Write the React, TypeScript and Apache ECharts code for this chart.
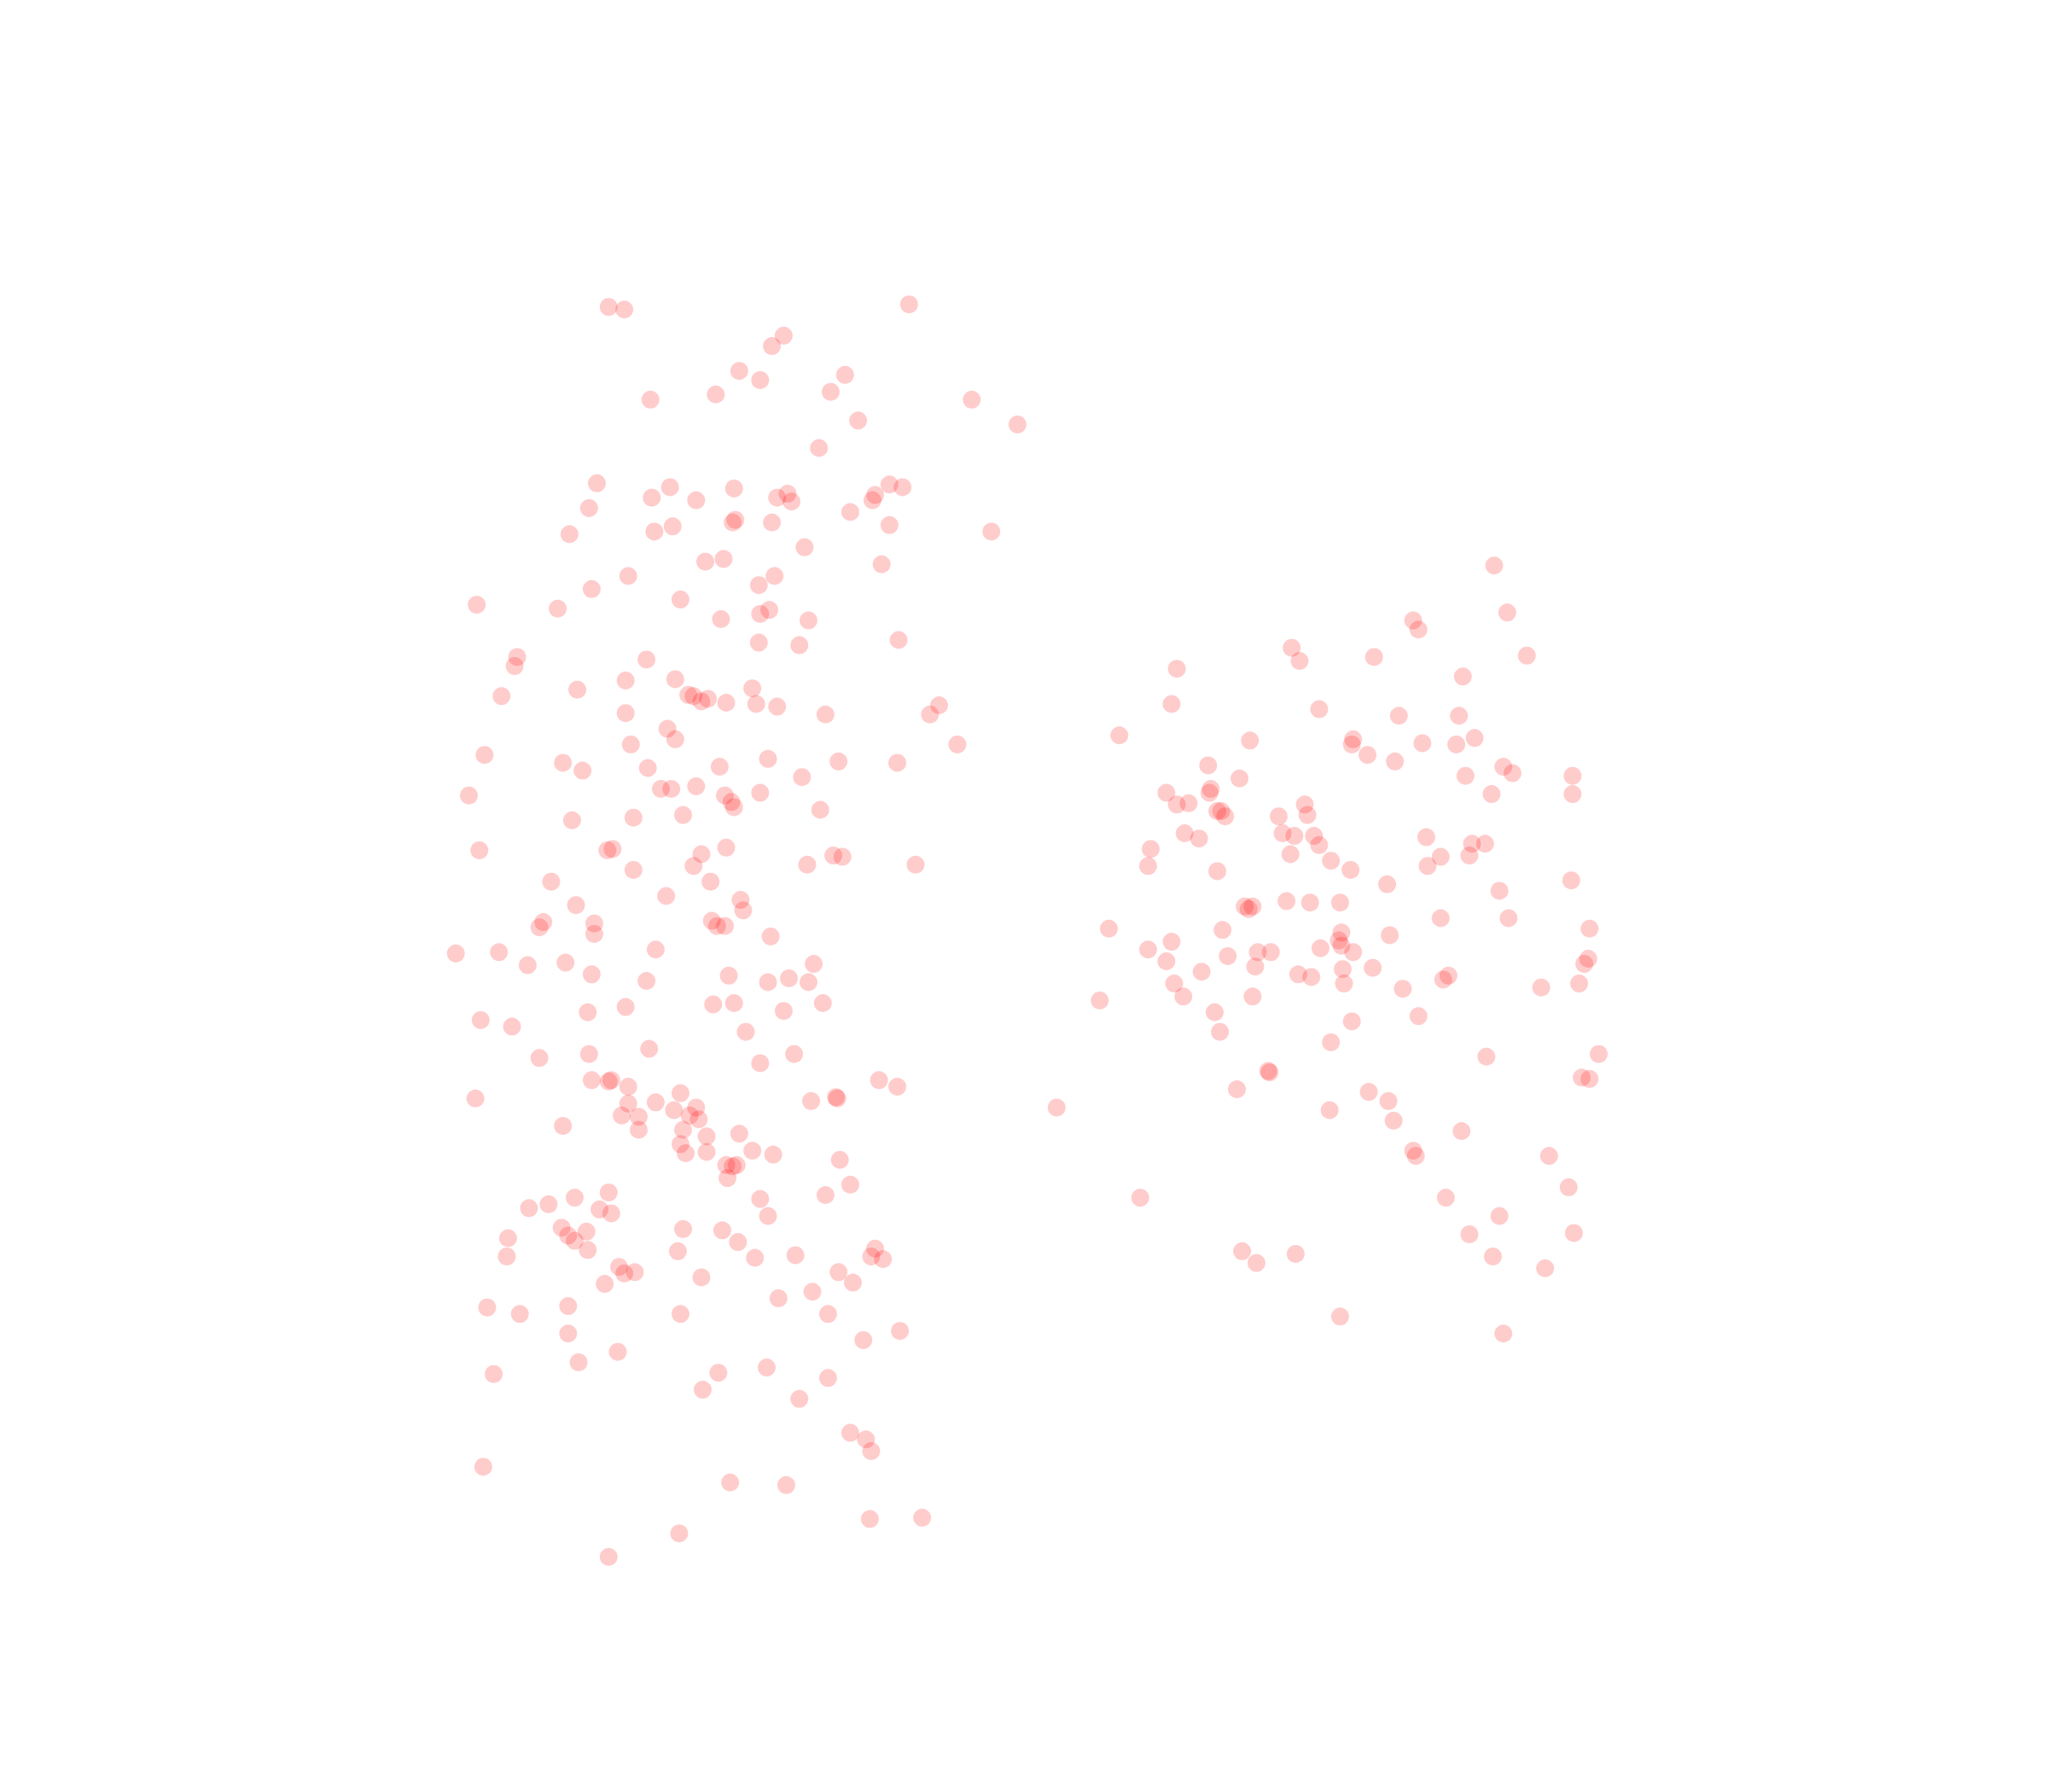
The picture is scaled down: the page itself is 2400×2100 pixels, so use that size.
import React, { useEffect, useRef } from "react";
import * as echarts from "echarts";

// Coordinates measured on a 1568 x 1372 reading of the picture (y grows downward)
const xRange = [0, 1568];
const yRange = [0, 1372];

const leftCluster: number[][] = [
  [466,235],[478,237],[696,233],[600,257],[591,265],[566,284],[582,291],[647,287],
  [498,306],[548,302],[636,300],[744,306],[657,322],[779,325],[627,343],
  [457,370],[513,373],[562,374],[681,371],[691,373],[499,381],[533,383],[595,381],[603,378],[606,384],[668,383],[670,379],
  [451,389],[651,392],[436,409],[501,407],[515,403],[561,400],[563,398],[591,400],[681,402],[759,407],[616,419],
  [540,430],[554,428],[675,432],[481,441],[593,441],[581,448],[453,451],
  [365,463],[427,466],[521,459],[582,470],[589,467],[552,474],[619,475],[581,492],[612,494],[688,490],
  [396,503],[394,510],[495,505],[479,521],[517,520],[442,528],[576,527],
  [384,533],[527,532],[531,533],[537,537],[542,535],[556,538],[579,539],[595,541],[719,540],
  [479,546],[632,547],[712,547],[511,558],[517,566],[483,570],[733,570],
  [371,578],[431,584],[446,590],[496,588],[551,587],[588,581],[642,583],[687,584],[614,595],
  [359,609],[506,604],[514,604],[533,602],[555,609],[560,614],[562,618],[582,607],[628,620],
  [438,628],[485,626],[523,624],
  [367,651],[465,651],[469,650],[537,654],[556,649],[638,655],[645,656],[618,662],[701,662],
  [485,666],[531,663],[422,675],[544,675],[510,686],[567,689],[569,697],[441,693],
  [413,710],[416,706],[455,707],[455,715],[545,705],[549,709],[555,709],[590,717],
  [349,730],[382,729],[502,727],[404,739],[433,737],[453,746],[495,751],[558,747],[588,752],[604,749],[619,752],[623,738],
  [546,769],[562,768],[600,774],[630,768],[450,775],[479,771],[368,781],[392,786],[571,790],
  [413,810],[451,807],[497,803],[582,814],[608,807],
  [453,827],[466,828],[468,827],[481,832],[521,837],[640,840],[641,841],[621,843],[673,827],[687,832],
  [364,841],[502,844],[481,845],[516,850],[476,854],[489,855],[528,854],[533,848],[535,857],
  [431,862],[489,865],[523,865],[566,868],[541,870],
  [521,876],[525,883],[541,882],[576,881],[592,884],[643,888],
  [556,892],[561,893],[564,892],[557,902],[651,907],
  [466,913],[440,917],[420,922],[405,925],[459,926],[468,929],[582,918],[588,931],[632,915],
  [430,940],[449,943],[435,946],[440,950],[389,948],[523,941],[553,942],[565,951],
  [388,962],[450,957],[519,958],[578,963],[609,961],[670,956],[667,962],[676,964],
  [474,970],[478,975],[486,974],[463,983],[537,978],[642,974],[653,982],
  [373,1001],[398,1006],[435,1000],[596,994],[622,989],
  [521,1006],[634,1006],[435,1021],[661,1026],[689,1019],
  [443,1043],[473,1035],[587,1047],[378,1052],[550,1051],[634,1055],[538,1064],[612,1071],
  [651,1097],[663,1102],[667,1111],[370,1123],[559,1135],[602,1137],
  [666,1163],[706,1162],[520,1174],[466,1192],
  [809,848]
];

const rightCluster: number[][] = [
  [1144,433],[1154,469],[1082,475],[1086,482],[989,496],[995,506],[1052,503],[1169,502],
  [901,512],[1120,518],[897,539],[1010,543],[1071,548],[1117,548],
  [857,563],[957,567],[1036,566],[1035,570],[1089,569],[1115,570],[1129,565],
  [1047,578],[1068,583],[925,586],[1151,587],[1158,592],[949,596],[1122,594],[1204,594],
  [893,607],[927,604],[926,607],[901,616],[910,615],[1142,608],[1204,608],
  [932,621],[935,621],[938,625],[999,616],[1001,624],[979,625],
  [881,650],[907,638],[918,642],[982,638],[991,640],[1006,640],[1010,647],[988,654],[1092,641],[1127,646],[1137,646],[1103,656],[1125,655],
  [879,663],[932,667],[1019,659],[1034,666],[1093,663],
  [1062,677],[1203,674],[1148,682],
  [985,690],[1003,691],[1026,691],[953,694],[956,696],[959,694],
  [849,711],[936,712],[1103,703],[1155,703],[1217,711],[1027,714],[1064,716],
  [879,727],[897,721],[1011,726],[1025,720],[1027,724],[963,729],[973,729],[1036,729],
  [893,736],[940,732],[961,740],[1216,734],[1213,738],
  [920,744],[994,746],[1004,748],[1051,741],[1028,742],[1029,753],
  [899,753],[1074,757],[1105,750],[1109,747],[1180,756],[1209,753],
  [842,766],[906,763],[959,763],[930,775],[1086,778],[1035,782],
  [934,790],[1019,798],[1138,809],[1224,807],
  [971,820],[972,821],[1211,825],[1217,826],
  [947,834],[1048,836],[1063,843],[1018,850],[1067,858],[1119,866],
  [1082,881],[1084,885],[1186,885],[873,917],[1107,917],[1201,909],
  [1125,945],[1148,931],[1205,944],[951,958],[962,967],[992,960],[1143,962],
  [1183,971],[1026,1008],[1151,1021]
];

export default function App() {
  const ref = useRef<HTMLDivElement>(null);
  useEffect(() => {
    if (!ref.current) return;
    const chart = echarts.init(ref.current, null, { renderer: "svg" });
    const itemStyle = { color: "rgba(255,0,0,0.25)" };
    chart.setOption({
      animation: false,
      backgroundColor: "#ffffff",
      grid: { left: 0, right: 0, top: 0, bottom: 0 },
      xAxis: { type: "value", min: xRange[0], max: xRange[1], show: false, splitLine: { show: false } },
      yAxis: { type: "value", min: yRange[0], max: yRange[1], inverse: true, show: false, splitLine: { show: false } },
      series: [
        { name: "left", type: "scatter", symbolSize: 21, itemStyle, data: leftCluster },
        { name: "right", type: "scatter", symbolSize: 21, itemStyle, data: rightCluster }
      ]
    });
    return () => chart.dispose();
  }, []);
  return (
    <div
      ref={ref}
      style={{ position: "absolute", left: 0, top: 0, width: 2400, height: 2100 }}
    />
  );
}
